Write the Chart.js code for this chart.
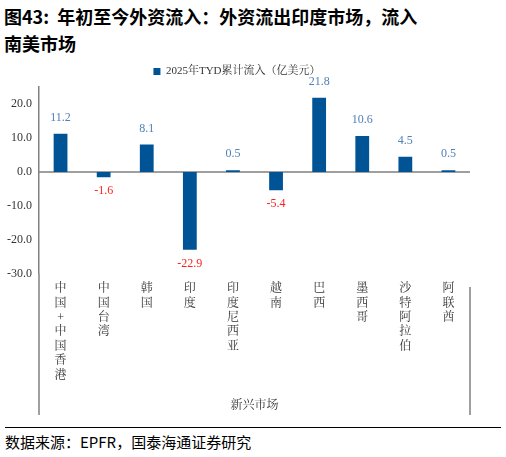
<!DOCTYPE html>
<html><head><meta charset="utf-8">
<script src="https://cdn.jsdelivr.net/npm/chart.js@4/dist/chart.umd.min.js"></script>
<style>
body{margin:0;width:506px;height:457px;background:#fff;font-family:"Noto Sans CJK SC",sans-serif;position:relative;overflow:hidden}
#title{position:absolute;left:4px;top:3px;width:500px;font-size:18px;font-weight:bold;line-height:27px;color:#000}
#wrap{position:absolute;left:0;top:58px;width:506px;height:365px}
#rule{position:absolute;left:5px;top:427px;width:496px;border-top:1px solid #000}
#src{position:absolute;left:5px;top:431px;font-size:15px;color:#000}
</style></head><body>
<div id="title">图43:&nbsp; 年初至今外资流入：外资流出印度市场，流入<br>南美市场</div>
<div id="wrap"><canvas id="c"></canvas></div>
<div id="rule"></div>
<div id="src">数据来源：EPFR，国泰海通证券研究</div>
<script>
const categories = ["中国+中国香港","中国台湾","韩国","印度","印度尼西亚","越南","巴西","墨西哥","沙特阿拉伯","阿联酋"];
const values = [11.2, -1.6, 8.1, -22.9, 0.5, -5.4, 21.8, 10.6, 4.5, 0.5];
const seriesName = "2025年TYD累计流入（亿美元）";
const FONT = '"Liberation Serif","Noto Serif CJK SC","Noto Sans CJK SC",serif';

const barLabels = {
  id: 'barLabels',
  beforeDatasetsDraw(chart) {
    const ctx = chart.ctx, a = chart.chartArea;
    const y0 = chart.scales.y.getPixelForValue(0);
    ctx.save();
    ctx.strokeStyle = '#808080'; ctx.lineWidth = 1.5;
    ctx.beginPath();
    ctx.moveTo(a.left, y0); ctx.lineTo(a.right, y0);
    ctx.moveTo(a.left, a.bottom); ctx.lineTo(a.left, chart.height - 8);
    ctx.moveTo(a.right, a.top + 200); ctx.lineTo(a.right, chart.height - 8);
    ctx.stroke();
    ctx.restore();
  },
  afterDatasetsDraw(chart) {
    const ctx = chart.ctx;
    const meta = chart.getDatasetMeta(0);
    ctx.save();
    ctx.font = '12px ' + FONT;
    ctx.textAlign = 'center';
    meta.data.forEach((bar, i) => {
      const v = values[i];
      if (v >= 0) { ctx.fillStyle = '#4f81b8'; ctx.textBaseline = 'bottom'; ctx.fillText(v.toFixed(1), bar.x, bar.y - 10); }
      else { ctx.fillStyle = '#ff2020'; ctx.textBaseline = 'top'; ctx.fillText(v.toFixed(1), bar.x, bar.y + 8); }
    });
    ctx.restore();
  }
};

new Chart(document.getElementById('c'), {
  type: 'bar',
  data: {
    labels: categories.map(s => s.split('')),
    datasets: [{ label: seriesName, data: values, backgroundColor: '#005495', barPercentage: 0.32, categoryPercentage: 1 }]
  },
  options: {
    responsive: true, maintainAspectRatio: false, animation: false,
    layout: { padding: { left: 4, right: 36, top: 0, bottom: 6 } },
    plugins: {
      legend: { position: 'top', labels: { boxWidth: 7, boxHeight: 7, padding: 8, color: '#333', font: { size: 11, family: FONT } } },
      tooltip: { enabled: false }
    },
    scales: {
      x: {
        grid: { display: false, drawTicks: false },
        border: { display: false },
        ticks: { color: '#333', font: { size: 12, family: FONT }, maxRotation: 0, autoSkip: false, padding: 8 },
        title: { display: true, text: '新兴市场', color: '#333', font: { size: 12, family: FONT }, padding: { top: 8 } }
      },
      y: {
        min: -30, max: 25,
        grid: { display: false, drawTicks: true, tickLength: 4, tickColor: '#808080' },
        border: { color: '#808080', width: 1.5 },
        ticks: { stepSize: 5, color: '#333', font: { size: 12, family: FONT }, callback: v => v.toFixed(1) }
      }
    }
  },
  plugins: [barLabels]
});
</script>
</body></html>
